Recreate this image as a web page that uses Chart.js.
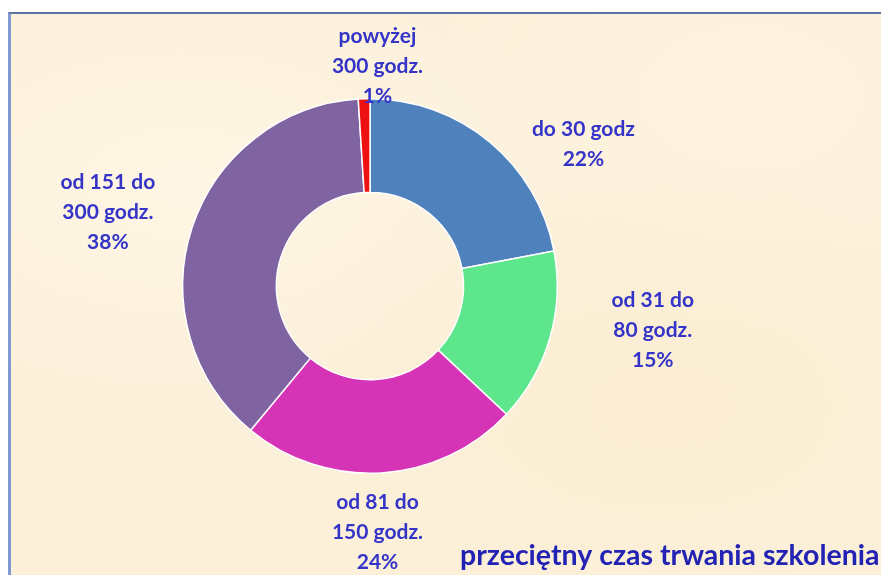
<!DOCTYPE html>
<html>
<head>
<meta charset="utf-8">
<script src="https://cdn.jsdelivr.net/npm/chart.js@4.4.1/dist/chart.umd.min.js"></script>
<style>
  html, body { margin: 0; padding: 0; background: #ffffff; }
  #frame {
    position: absolute; left: 8px; top: 12px; width: 873px; height: 563px;
    border-top: 2px solid #5f72a3; border-left: 3px solid #8099d2;
    box-sizing: border-box;
    background:
      radial-gradient(ellipse at 20% 30%, rgba(255,248,232,0.7), rgba(255,248,232,0) 40%),
      radial-gradient(ellipse at 75% 70%, rgba(250,236,205,0.6), rgba(250,236,205,0) 45%),
      radial-gradient(ellipse at 85% 15%, rgba(255,246,226,0.6), rgba(255,246,226,0) 35%),
      #fcf0da;
  }
  #c { position: absolute; left: 0; top: 0; }
</style>
</head>
<body>
<div id="frame"></div>
<canvas id="c" width="881" height="575"></canvas>
<script>
// ---- data ----
const categories = [
  ["do 30 godz"],
  ["od 31 do", "80 godz."],
  ["od 81 do", "150 godz."],
  ["od 151 do", "300 godz."],
  ["powyżej", "300 godz."]
];
const values = [22, 15, 24, 38, 1];
const percentLabels = ["22%", "15%", "24%", "38%", "1%"];
const sliceColors = ["#4f81bd", "#5de68b", "#d634b6", "#8064a2", "#ee1111"];
const chartTitle = "przeciętny czas trwania szkolenia";

// label anchors relative to doughnut centre, in units of the outer radius
const labelAnchors = [
  [1.14, -0.755],
  [1.51, 0.235],
  [0.04, 1.316],
  [-1.40, -0.396],
  [0.04, -1.171]
];

const labelPlugin = {
  id: 'sliceLabels',
  afterDatasetsDraw(chart) {
    const ctx = chart.ctx;
    const meta = chart.getDatasetMeta(0);
    const arc0 = meta.data[0];
    const cx = arc0.x, cy = arc0.y, R = arc0.outerRadius;
    ctx.save();
    ctx.fillStyle = '#3434c8';
    ctx.font = 'bold 21px Lato, "Open Sans", sans-serif';
    ctx.textAlign = 'center';
    ctx.textBaseline = 'middle';
    const lh = 30;
    categories.forEach((lines, i) => {
      const all = lines.concat([percentLabels[i]]);
      const ax = cx + labelAnchors[i][0] * R;
      const ay = cy + labelAnchors[i][1] * R;
      const y0 = ay - (all.length - 1) * lh / 2;
      all.forEach((t, k) => ctx.fillText(t, ax, y0 + k * lh));
    });
    ctx.fillStyle = '#2222b4';
    ctx.font = 'bold 28.5px Lato, "Open Sans", sans-serif';
    ctx.textAlign = 'left';
    ctx.fillText(chartTitle, 460, 556);
    ctx.restore();
  }
};

new Chart(document.getElementById('c'), {
  type: 'doughnut',
  data: {
    labels: categories.map(l => l.join(' ')),
    datasets: [{
      data: values,
      backgroundColor: sliceColors,
      borderColor: '#ffffff',
      borderWidth: 1.5
    }]
  },
  options: {
    responsive: false,
    animation: false,
    cutout: '50%',
    layout: { padding: { left: 182, top: 98, right: 323, bottom: 101 } },
    plugins: { legend: { display: false }, tooltip: { enabled: false }, title: { display: false } }
  },
  plugins: [labelPlugin]
});
</script>
</body>
</html>
